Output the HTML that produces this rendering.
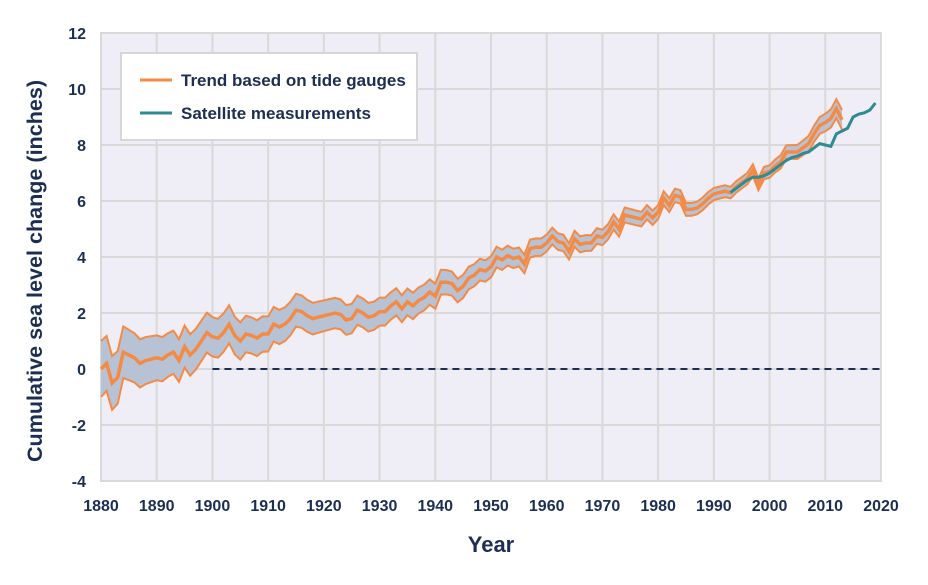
<!DOCTYPE html>
<html><head><meta charset="utf-8"><style>
body{margin:0;background:#fff;}
svg text{font-family:"Liberation Sans",sans-serif;fill:#1c2e52;font-weight:bold;}
</style></head><body>
<svg id="s" width="928" height="580" viewBox="0 0 928 580" xmlns="http://www.w3.org/2000/svg">
<rect x="101" y="33" width="780" height="448" fill="#efedf5" stroke="#d9d9d9" stroke-width="2"/>
<g id="grid" stroke="#d9d9d9" stroke-width="2"></g>
<g id="data"></g>
<g id="labels" font-size="16"></g>
<text x="491" y="552" font-size="22" text-anchor="middle">Year</text>
<text transform="translate(42,271) rotate(-90)" font-size="21" text-anchor="middle" textLength="382" lengthAdjust="spacingAndGlyphs">Cumulative sea level change (inches)</text>
<rect x="121" y="53" width="296" height="87" fill="#fff" stroke="#d6d6d6" stroke-width="2"/>
<line x1="140" y1="80" x2="172" y2="80" stroke="#f58a45" stroke-width="3"/>
<line x1="140" y1="113" x2="172" y2="113" stroke="#2e8a93" stroke-width="3"/>
<text x="181" y="86" font-size="17">Trend based on tide gauges</text>
<text x="181" y="119" font-size="17">Satellite measurements</text>
</svg>
<script>
var X=function(y){return 101+(y-1880)*5.5714;},Y=function(v){return 369-v*28;};
var g=document.getElementById('grid'),L=document.getElementById('labels'),ns='http://www.w3.org/2000/svg';
function el(t,a,p){var e=document.createElementNS(ns,t);for(var k in a)e.setAttribute(k,a[k]);p.appendChild(e);return e;}
for(var yr=1890;yr<2020;yr+=10)el('line',{x1:X(yr),y1:33,x2:X(yr),y2:481},g);
for(var v=-2;v<12;v+=2)el('line',{x1:101,y1:Y(v),x2:881,y2:Y(v)},g);
for(var yr=1880;yr<=2020;yr+=10){var t=el('text',{x:X(yr),y:511,'text-anchor':'middle'},L);t.textContent=yr;}
for(var v=-4;v<=12;v+=2){var t=el('text',{x:86,y:Y(v)+6,'text-anchor':'end'},L);t.textContent=v;}
var m=[0,0.2,-0.5,-0.3,0.6,0.5,0.4,0.2,0.3,0.35,0.4,0.35,0.5,0.6,0.3,0.8,0.5,0.7,1.0,1.3,1.15,1.1,1.3,1.6,1.2,1.0,1.25,1.2,1.1,1.25,1.25,1.6,1.5,1.6,1.8,2.1,2.05,1.9,1.8,1.85,1.9,1.95,2.0,1.95,1.75,1.8,2.1,2.0,1.85,1.9,2.05,2.05,2.25,2.4,2.15,2.4,2.25,2.45,2.55,2.75,2.6,3.1,3.1,3.05,2.8,2.95,3.25,3.35,3.55,3.5,3.65,4.0,3.9,4.05,3.95,4.0,3.75,4.3,4.35,4.35,4.5,4.75,4.55,4.5,4.2,4.65,4.45,4.5,4.5,4.75,4.7,4.9,5.25,5.0,5.5,5.45,5.4,5.35,5.6,5.4,5.6,6.1,5.85,6.2,6.15,5.7,5.7,5.75,5.9,6.1,6.25,6.3,6.35,6.3,6.5,6.65,6.8,7.1,6.6,7.0,7.05,7.25,7.4,7.75,7.75,7.75,7.9,8.05,8.4,8.7,8.8,8.95,9.3,8.9];
function unc(yr){var k=[[1880,1.0],[1890,0.8],[1900,0.7],[1920,0.55],[1940,0.45],[1960,0.3],[1980,0.25],[1995,0.2],[2005,0.25],[2013,0.35]];
for(var i=0;i<k.length-1;i++)if(yr<=k[i+1][0]){var f=(yr-k[i][0])/(k[i+1][0]-k[i][0]);return k[i][1]+f*(k[i+1][1]-k[i][1]);}return 0.35;}
var up=[],lo=[],mid=[];
for(var i=0;i<m.length;i++){var yr=1880+i,u=unc(yr);up.push(X(yr).toFixed(1)+','+Y(m[i]+u).toFixed(1));lo.push(X(yr).toFixed(1)+','+Y(m[i]-u).toFixed(1));mid.push(X(yr).toFixed(1)+','+Y(m[i]).toFixed(1));}
var d=document.getElementById('data');
el('polygon',{points:up.join(' ')+' '+lo.slice().reverse().join(' '),fill:'#b7c3d4'},d);
el('line',{x1:X(1900),y1:369,x2:881,y2:369,stroke:'#1c2e52','stroke-width':2,'stroke-dasharray':'7,5'},d);
el('polyline',{points:up.join(' '),fill:'none',stroke:'#f58a45','stroke-width':2},d);
el('polyline',{points:lo.join(' '),fill:'none',stroke:'#f58a45','stroke-width':2},d);
el('polyline',{points:mid.join(' '),fill:'none',stroke:'#f58a45','stroke-width':3.5},d);
var s=[6.3,6.45,6.6,6.75,6.85,6.85,6.9,7.0,7.15,7.3,7.45,7.55,7.6,7.7,7.75,7.9,8.05,8.0,7.95,8.4,8.5,8.6,9.0,9.1,9.15,9.25,9.5],sp=[];
for(var i=0;i<s.length;i++)sp.push(X(1993+i).toFixed(1)+','+Y(s[i]).toFixed(1));
el('polyline',{points:sp.join(' '),fill:'none',stroke:'#2e8a93','stroke-width':3},d);
</script>
</body></html>
